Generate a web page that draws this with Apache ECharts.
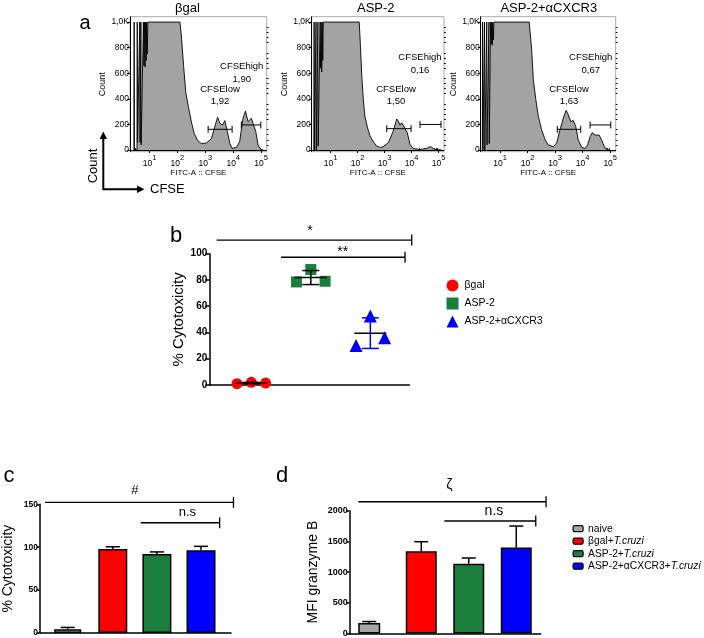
<!DOCTYPE html>
<html><head><meta charset="utf-8">
<script src="https://cdn.jsdelivr.net/npm/echarts@6/dist/echarts.min.js"></script>
<style>html,body{margin:0;padding:0;background:#fff}#c{width:704px;height:638px}</style>
</head><body><div id="c"></div>
<script>
// ================= DATA =================
// Panel a: CFSE histograms (x = log10 FITC intensity, y = count)
const histTitles = ['βgal', 'ASP-2', 'ASP-2+αCXCR3'];
const histBgal = [[0.44,0],[0.45,1000],[0.46,0],[0.55,0],[0.56,1000],[0.57,60],[0.64,60],[0.65,1000],[0.66,60],[0.68,50],[0.69,1000],[0.70,40],[0.77,40],[0.78,1000],[0.80,660],[0.82,1000],[0.84,650],[0.86,1000],[0.88,700],[0.90,1000],[0.92,750],[0.94,1000],[2.09,1000],[2.15,870],[2.22,660],[2.30,450],[2.40,330],[2.50,220],[2.60,130],[2.72,75],[2.86,50],[3.04,55],[3.22,91],[3.34,183],[3.44,256],[3.52,209],[3.62,196],[3.70,230],[3.79,143],[3.88,52],[3.96,13],[4.12,21],[4.23,65],[4.35,248],[4.44,305],[4.53,222],[4.65,248],[4.72,240],[4.81,143],[4.89,39],[4.99,5],[5.08,0]];
const histAsp2 = [[0.38,0],[0.39,1000],[0.40,0],[0.45,0],[0.46,1000],[0.47,0],[0.52,0],[0.53,1000],[0.54,30],[0.60,30],[0.61,1000],[0.63,640],[0.65,1000],[0.67,610],[0.69,1000],[0.71,700],[0.73,1000],[2.06,1000],[2.11,790],[2.16,560],[2.21,400],[2.27,265],[2.36,180],[2.46,110],[2.60,60],[2.71,30],[2.85,20],[2.95,27],[3.14,58],[3.32,148],[3.45,243],[3.51,226],[3.57,195],[3.63,213],[3.69,195],[3.76,205],[3.84,135],[3.94,45],[4.06,11],[4.31,5],[4.50,10],[4.62,18],[4.72,28],[4.80,10],[4.93,4],[5.11,0]];
const histAspCxcr3 = [[0.36,0],[0.37,1000],[0.38,0],[0.43,0],[0.44,1000],[0.45,0],[0.51,0],[0.52,1000],[0.53,40],[0.59,40],[0.60,1000],[0.61,50],[0.65,50],[0.66,1000],[0.68,830],[0.70,1000],[0.72,820],[0.74,1000],[0.76,860],[0.78,1000],[2.06,1000],[2.15,785],[2.21,550],[2.30,395],[2.39,265],[2.51,160],[2.63,85],[2.75,40],[2.94,26],[3.06,57],[3.18,160],[3.30,251],[3.40,310],[3.48,276],[3.57,223],[3.66,231],[3.75,184],[3.84,78],[3.97,20],[4.09,12],[4.18,39],[4.27,104],[4.35,135],[4.45,117],[4.51,104],[4.60,117],[4.69,78],[4.79,26],[4.87,5],[4.99,0]];
// gates: [from, to, count level] for CFSElow and CFSEhigh
const gatesBgal = [[3.10,3.96,162],[4.29,4.99,196]];
const gatesAsp2 = [[3.08,3.98,167],[4.31,5.09,200]];
const gatesAspCxcr3 = [[3.08,3.93,162],[4.27,5.02,196]];
const gateNames = ['CFSElow', 'CFSEhigh'];
const pctLow = ['1,92', '1,50', '1,63'];
const pctHigh = ['1,90', '0,16', '0,67'];
const histYTicks = [0, 200, 400, 600, 800, 1000];
const histXTicks = [1, 2, 3, 4, 5];

// Panel b: % cytotoxicity, individual mice
const bGroups = ['βgal', 'ASP-2', 'ASP-2+αCXCR3'];
const bBgal = [1, 2, 1.5];
const bAsp2 = [78.5, 88, 79];
const bAspCxcr3 = [30, 52.5, 36];

// Panels c, d: bar charts (mean, SD)
const barGroups = ['naive', 'βgal+T.cruzi', 'ASP-2+T.cruzi', 'ASP-2+αCXCR3+T.cruzi'];
const cMeans = [4.5, 98, 92, 96.5];
const cErrs = [2, 2.5, 2.5, 4.5];
const dMeans = [170, 1340, 1135, 1400];
const dErrs = [25, 155, 95, 350];

// ================= STYLE / LAYOUT =================
const FF = '"Liberation Sans", Arial, sans-serif';
const bColors = ['#ff0000', '#1a7f3c', '#0000ff'];
const bSymbols = ['circle', 'rect', 'triangle'];
const barColors = ['#a6a6a6', '#ff0000', '#1a7f3c', '#0000ff'];
const cBarW = [27, 29, 29, 29];
const dBarW = [22, 31, 31, 31];
const jitter = [-0.24, 0, 0.24];
const histSets = [histBgal, histAsp2, histAspCxcr3];
const gateSets = [gatesBgal, gatesAsp2, gatesAspCxcr3];
const bSets = [bBgal, bAsp2, bAspCxcr3];

const histGrids = [
  {left: 130, top: 16.7, width: 136.7, height: 135},
  {left: 311.7, top: 16.7, width: 132.3, height: 135},
  {left: 480.7, top: 16.7, width: 135, height: 135}
];
const grids = histGrids.map(g => Object.assign({show: true, borderColor: '#aaa', borderWidth: 1}, g)).concat([
  {left: 209.3, top: 253.7, width: 200, height: 131.3},
  {left: 36.7, top: 504.3, width: 194.3, height: 128.7},
  {left: 349.3, top: 510.7, width: 191.4, height: 123}
]);

const minorX = [];
for (let d = 0; d <= 5; d++) for (let k = 2; k <= 9; k++) { const v = d + Math.log10(k); if (v > 0.3 && v < 5.2) minorX.push(v); }
const minorY = [];
for (let v = 40; v < 1000; v += 40) if (v % 200 !== 0) minorY.push(v);

const xAxes = [], yAxes = [];
for (let i = 0; i < 3; i++) {
  xAxes.push({type: 'value', gridIndex: i, min: 0.3, max: 5.2, splitLine: {show: false},
    axisLine: {lineStyle: {color: '#000', width: 1}},
    axisTick: {customValues: histXTicks, length: 3, lineStyle: {color: '#000'}},
    axisLabel: {customValues: histXTicks, margin: 2, formatter: v => '{b|10}{s|' + v + '}',
      rich: {b: {fontSize: 8.5, fontFamily: FF, color: '#000', verticalAlign: 'bottom'},
             s: {fontSize: 7.5, fontFamily: FF, color: '#000', verticalAlign: 'bottom', padding: [0, 0, 6, 0]}}},
    name: 'FITC-A :: CFSE', nameLocation: 'middle', nameGap: 17,
    nameTextStyle: {fontSize: 8, fontFamily: FF, color: '#000'}});
  yAxes.push({type: 'value', gridIndex: i, min: -13, max: 1042, splitLine: {show: false},
    axisLine: {show: true, lineStyle: {color: '#000', width: 1}},
    axisTick: {show: true, customValues: histYTicks, length: 3, lineStyle: {color: '#000'}},
    axisLabel: {customValues: histYTicks, margin: 1, fontSize: 8.5, fontFamily: FF, color: '#000',
      formatter: v => v === 1000 ? '1,0K' : String(v)},
    name: 'Count', nameLocation: 'middle', nameGap: 23,
    nameTextStyle: {fontSize: 9, fontFamily: FF, color: '#000'}});
}
for (let i = 0; i < 3; i++) {
  xAxes.push({type: 'value', gridIndex: i, min: 0.3, max: 5.2, splitLine: {show: false}, axisLine: {show: false},
    axisLabel: {show: false}, axisTick: {customValues: minorX, length: 1.8, lineStyle: {color: '#000'}}});
  yAxes.push({type: 'value', gridIndex: i, min: -13, max: 1042, splitLine: {show: false}, axisLine: {show: false},
    axisLabel: {show: false}, axisTick: {show: true, customValues: minorY, length: 1.8, lineStyle: {color: '#000'}}});
}
// b
xAxes.push({type: 'value', gridIndex: 3, min: 0.294, max: 3.655, splitLine: {show: false},
  axisLine: {lineStyle: {color: '#000', width: 1.5}}, axisTick: {show: false}, axisLabel: {show: false}});
yAxes.push({type: 'value', gridIndex: 3, min: 0, max: 100, interval: 20, splitLine: {show: false},
  axisLine: {show: true, lineStyle: {color: '#000', width: 1.5}},
  axisTick: {show: true, length: 4, lineStyle: {color: '#000', width: 1.5}},
  axisLabel: {margin: 2, fontSize: 10, fontWeight: 'bold', fontFamily: FF, color: '#000', formatter: v => String(v)},
  name: '% Cytotoxicity', nameLocation: 'middle', nameGap: 19,
  nameTextStyle: {fontSize: 15, fontFamily: FF, color: '#000'}});
// c
xAxes.push({type: 'value', gridIndex: 4, min: 0.338, max: 4.68, splitLine: {show: false},
  axisLine: {lineStyle: {color: '#000', width: 1.5}}, axisTick: {show: false}, axisLabel: {show: false}});
yAxes.push({type: 'value', gridIndex: 4, min: 0, max: 150, interval: 50, splitLine: {show: false},
  axisLine: {show: true, lineStyle: {color: '#000', width: 1.5}},
  axisTick: {show: true, length: 3, lineStyle: {color: '#000', width: 1.5}},
  axisLabel: {margin: 1.5, fontSize: 8.5, fontWeight: 'bold', fontFamily: FF, color: '#000', formatter: v => String(v)},
  name: '% Cytotoxicity', nameLocation: 'middle', nameGap: 24.5,
  nameTextStyle: {fontSize: 14, fontFamily: FF, color: '#000'}});
// d
xAxes.push({type: 'value', gridIndex: 5, min: 0.486, max: 4.514, splitLine: {show: false},
  axisLine: {lineStyle: {color: '#000', width: 1.5}}, axisTick: {show: false}, axisLabel: {show: false}});
yAxes.push({type: 'value', gridIndex: 5, min: 0, max: 2000, interval: 500, splitLine: {show: false},
  axisLine: {show: true, lineStyle: {color: '#000', width: 1.5}},
  axisTick: {show: true, length: 3, lineStyle: {color: '#000', width: 1.5}},
  axisLabel: {margin: 1.5, fontSize: 9, fontWeight: 'bold', fontFamily: FF, color: '#000', formatter: v => String(v)},
  name: 'MFI granzyme B', nameLocation: 'middle', nameGap: 29,
  nameTextStyle: {fontSize: 14, fontFamily: FF, color: '#000'}});

// significance brackets (annotation layout, data coords)
const bracketsB = [{x1: 0.418, x2: 3.696, y: 110.4, label: '*', tx: 1.986, ty: 117}, {x1: 1.499, x2: 3.583, y: 97.3, label: '**', tx: 2.536, ty: 101}];
const bracketsC = [{x1: 0.463, x2: 4.736, y: 152.3, label: '#', tx: 2.5, ty: 166.7}, {x1: 2.633, x2: 4.423, y: 128.5, label: 'n.s', tx: 3.69, ty: 140.5}];
const bracketsD = [{x1: 0.675, x2: 4.627, y: 2146, label: 'ζ', tx: 2.59, ty: 2410}, {x1: 2.486, x2: 4.41, y: 1832, label: 'n.s', tx: 3.53, ty: 1990}];

function bracketSeries(ai, list, fontSize) {
  return {type: 'custom', xAxisIndex: ai, yAxisIndex: ai, clip: false, silent: true, z: 10,
    data: list.map((_, i) => [i, 0]),
    renderItem: function (params, api) {
      const b = list[api.value(0)];
      const p1 = api.coord([b.x1, b.y]), p2 = api.coord([b.x2, b.y]), t = api.coord([b.tx, b.ty]);
      return {type: 'group', children: [
        {type: 'line', shape: {x1: p1[0], y1: p1[1], x2: p2[0], y2: p2[1]}, style: {stroke: '#000', lineWidth: 1.3}},
        {type: 'line', shape: {x1: p2[0], y1: p2[1] - 5.5, x2: p2[0], y2: p2[1] + 5.5}, style: {stroke: '#000', lineWidth: 1.3}},
        {type: 'text', style: {text: b.label, x: t[0], y: t[1], fill: '#000', fontSize: fontSize, fontFamily: FF, align: 'center', verticalAlign: 'middle'}}
      ]};
    }};
}

const series = [];
// histograms
for (let i = 0; i < 3; i++) {
  series.push({type: 'line', xAxisIndex: i, yAxisIndex: i, data: histSets[i], symbol: 'none', silent: true,
    lineStyle: {color: '#000', width: 0.9}, areaStyle: {color: '#a3a3a3', opacity: 1}, z: 2});
  series.push({type: 'custom', xAxisIndex: i, yAxisIndex: i, silent: true, z: 5,
    data: gateSets[i].map(g => [g[0], g[1], g[2]]),
    renderItem: function (params, api) {
      const a = api.coord([api.value(0), api.value(2)]), b = api.coord([api.value(1), api.value(2)]);
      const st = {stroke: '#000', lineWidth: 1};
      return {type: 'group', children: [
        {type: 'line', shape: {x1: a[0], y1: a[1], x2: b[0], y2: b[1]}, style: st},
        {type: 'line', shape: {x1: a[0], y1: a[1] - 3.5, x2: a[0], y2: a[1] + 3.5}, style: st},
        {type: 'line', shape: {x1: b[0], y1: b[1] - 3.5, x2: b[0], y2: b[1] + 3.5}, style: st}
      ]};
    }});
}
// b scatter
for (let g = 0; g < 3; g++) {
  series.push({type: 'scatter', name: bGroups[g], xAxisIndex: 6, yAxisIndex: 6, symbol: bSymbols[g],
    symbolSize: g === 2 ? 13 : 11, itemStyle: {color: bColors[g], opacity: 1}, z: 3,
    data: bSets[g].map((v, j) => [g + 1 + jitter[j], v])});
}
series.push({type: 'custom', xAxisIndex: 6, yAxisIndex: 6, silent: true, z: 6, clip: false,
  data: bSets.map((_, g) => [g, 0]),
  renderItem: function (params, api) {
    const g = api.value(0), vals = bSets[g];
    const mean = vals.reduce((s, v) => s + v, 0) / vals.length;
    const sd = Math.sqrt(vals.reduce((s, v) => s + (v - mean) * (v - mean), 0) / (vals.length - 1));
    const cx = g + 1;
    const m1 = api.coord([cx - 0.27, mean]), m2 = api.coord([cx + 0.27, mean]);
    const up = api.coord([cx, mean + sd]), lo = api.coord([cx, mean - sd]);
    const ec = g === 2 ? '#0000ff' : '#000';
    return {type: 'group', children: [
      {type: 'line', shape: {x1: m1[0], y1: m1[1], x2: m2[0], y2: m2[1]}, style: {stroke: '#000', lineWidth: 1.5}},
      {type: 'line', shape: {x1: up[0], y1: up[1], x2: lo[0], y2: lo[1]}, style: {stroke: ec, lineWidth: 1.5}},
      {type: 'line', shape: {x1: up[0] - 8.5, y1: up[1], x2: up[0] + 8.5, y2: up[1]}, style: {stroke: ec, lineWidth: 1.5}},
      {type: 'line', shape: {x1: lo[0] - 8.5, y1: lo[1], x2: lo[0] + 8.5, y2: lo[1]}, style: {stroke: ec, lineWidth: 1.5}}
    ]};
  }});
series.push(bracketSeries(6, bracketsB, 14));

// c and d bars
function barPanel(ai, means, errs, widths) {
  for (let i = 0; i < 4; i++) {
    series.push({type: 'bar', name: barGroups[i], xAxisIndex: ai, yAxisIndex: ai, barWidth: widths[i], barGap: '-100%',
      itemStyle: {color: barColors[i], borderColor: '#000', borderWidth: 1.5}, z: 2,
      data: [[i + 1, means[i]]]});
  }
  const wl = widths[widths.length - 1];
  series.push({type: 'custom', xAxisIndex: ai, yAxisIndex: ai, silent: true, z: 4, clip: false,
    data: means.map((m, i) => [i + 1, m, errs[i]]),
    renderItem: function (params, api) {
      const i = params.dataIndex;
      const top = api.coord([api.value(0), api.value(1)]), cap = api.coord([api.value(0), api.value(1) + api.value(2)]);
      const x = top[0] - wl / 2 + widths[i] / 2;
      const st = {stroke: '#000', lineWidth: 1.5};
      return {type: 'group', children: [
        {type: 'line', shape: {x1: x, y1: top[1], x2: x, y2: cap[1]}, style: st},
        {type: 'line', shape: {x1: x - 7, y1: cap[1], x2: x + 7, y2: cap[1]}, style: st}
      ]};
    }});
}
barPanel(7, cMeans, cErrs, cBarW);
series.push(bracketSeries(7, bracketsC, 13));
barPanel(8, dMeans, dErrs, dBarW);
series.push(bracketSeries(8, bracketsD, 14));

// ================= TEXT / DECORATION =================
function txt(x, y, text, size, extra) {
  return Object.assign({type: 'text', x: x, y: y, silent: true,
    style: {text: text, fontSize: size, fontFamily: FF, fill: '#000', align: 'center', verticalAlign: 'middle',
      textAlign: 'center', textVerticalAlign: 'middle'}}, extra || {});
}
const histTitlePos = [[187.5, 8.5], [375.8, 8.5], [548.8, 8.5]];
const histHighPos = [[241.7, 66.7], [420, 57.3], [590.7, 57.3]];
const histLowPos = [[220, 89.3], [396, 89.3], [569, 89.3]];
const graphics = [];
for (let i = 0; i < 3; i++) {
  graphics.push(txt(histTitlePos[i][0], histTitlePos[i][1], histTitles[i], 13));
  graphics.push(txt(histHighPos[i][0], histHighPos[i][1], gateNames[1], 9.5));
  graphics.push(txt(histHighPos[i][0], histHighPos[i][1] + 12.7, pctHigh[i], 9.5));
  graphics.push(txt(histLowPos[i][0], histLowPos[i][1], gateNames[0], 9.5));
  graphics.push(txt(histLowPos[i][0], histLowPos[i][1] + 12.4, pctLow[i], 9.5));
}
graphics.push(txt(85, 23, 'a', 20));
graphics.push(txt(176, 236, 'b', 22));
graphics.push(txt(9, 476, 'c', 22));
graphics.push(txt(282, 476, 'd', 22));
// Count / CFSE orientation arrows
graphics.push({type: 'polyline', silent: true, shape: {points: [[103.3, 137], [103.3, 189.3], [138, 189.3]]}, style: {stroke: '#000', lineWidth: 2, fill: null}});
graphics.push({type: 'polygon', silent: true, shape: {points: [[99.6, 139], [107, 139], [103.3, 131.5]]}, style: {fill: '#000'}});
graphics.push({type: 'polygon', silent: true, shape: {points: [[137, 185.6], [137, 193], [144.5, 189.3]]}, style: {fill: '#000'}});
graphics.push(txt(93, 166, 'Count', 13, {rotation: Math.PI / 2}));
graphics.push(Object.assign(txt(150, 189.5, 'CFSE', 13), {}));
graphics[graphics.length - 1].style.align = 'left';
graphics[graphics.length - 1].style.textAlign = 'left';

const chart = echarts.init(document.getElementById('c'), null, {renderer: 'canvas'});
chart.setOption({
  animation: false,
  backgroundColor: '#fff',
  grid: grids,
  xAxis: xAxes,
  yAxis: yAxes,
  legend: [
    {orient: 'vertical', left: 441.5, top: 274.5, itemWidth: 12, itemHeight: 12, itemGap: 6, selectedMode: false,
      data: bGroups.map((n, g) => ({name: n, icon: bSymbols[g]})),
      textStyle: {fontSize: 10.5, fontFamily: FF, color: '#000', padding: [0, 0, 0, 1]}},
    {orient: 'vertical', left: 567.5, top: 518.7, itemWidth: 10, itemHeight: 6, itemGap: 2.5, selectedMode: false,
      data: barGroups, itemStyle: {borderColor: '#000', borderWidth: 1.2},
      formatter: function (n) {
        const k = n.indexOf('T.cruzi');
        return k < 0 ? '{n|' + n + '}' : '{n|' + n.slice(0, k) + '}{i|T.cruzi}';
      },
      textStyle: {fontSize: 10.3, fontFamily: FF, color: '#000', padding: [0, 0, 0, 0],
        rich: {n: {fontSize: 10.3, fontFamily: FF, color: '#000'}, i: {fontSize: 10.3, fontFamily: FF, color: '#000', fontStyle: 'italic'}}}}
  ],
  graphic: graphics,
  series: series
});
</script></body></html>
